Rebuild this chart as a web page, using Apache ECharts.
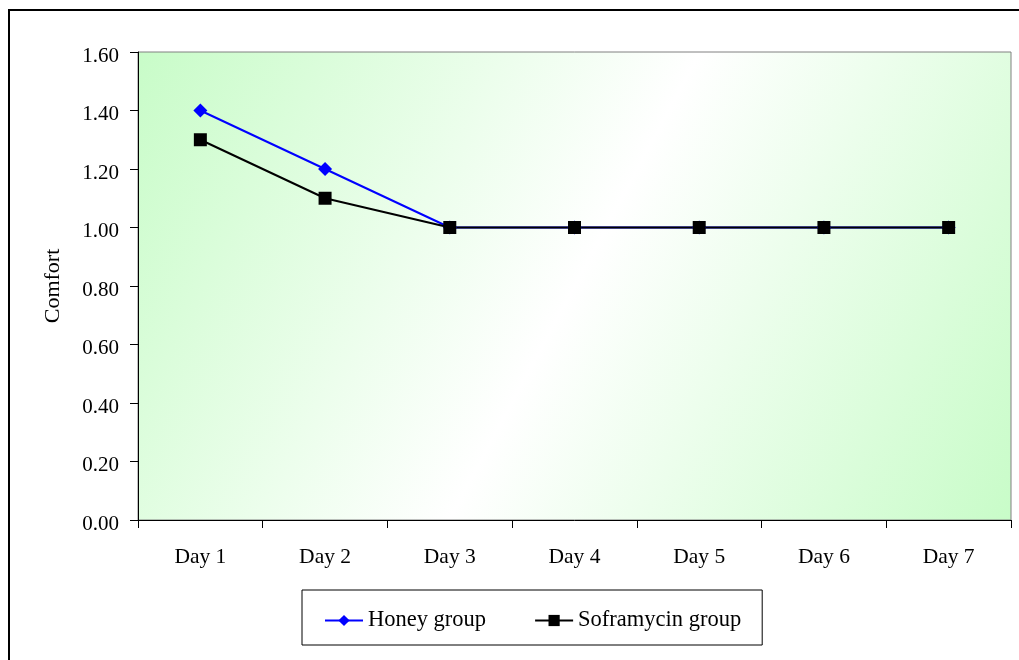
<!DOCTYPE html>
<html>
<head>
<meta charset="utf-8">
<script src="https://cdn.jsdelivr.net/npm/echarts@6/dist/echarts.min.js"></script>
<style>html,body{margin:0;padding:0;background:#fff;}#c{width:1019px;height:660px;}</style>
</head>
<body>
<div id="c"></div>
<script>
const categories = ['Day 1','Day 2','Day 3','Day 4','Day 5','Day 6','Day 7'];
const honeyGroup = [1.40, 1.20, 1.00, 1.00, 1.00, 1.00, 1.00];
const soframycinGroup = [1.30, 1.10, 1.00, 1.00, 1.00, 1.00, 1.00];
const seriesNames = ['Honey group', 'Soframycin group'];
const yAxisName = 'Comfort';

const FONT = "'Liberation Serif','Times New Roman',serif";
const chart = echarts.init(document.getElementById('c'), null, {renderer: 'canvas'});
chart.setOption({
  animation: false,
  backgroundColor: '#fff',
  textStyle: {fontFamily: FONT, color: '#000'},
  graphic: [{
    type: 'rect', z: 100, silent: true,
    shape: {x: 9, y: 10, width: 1100, height: 1000},
    style: {fill: null, stroke: '#000', lineWidth: 2}
  }],
  grid: {
    left: 138, right: 8, top: 52, bottom: 140,
    show: true, borderColor: '#808080', borderWidth: 1,
    backgroundColor: {
      type: 'linear', x: 0, y: 0, x2: 1, y2: 1,
      colorStops: [
        {offset: 0, color: '#c8fcc8'},
        {offset: 0.5, color: '#ffffff'},
        {offset: 1, color: '#c8fcc8'}
      ]
    }
  },
  legend: {
    data: seriesNames,
    left: 302, top: 590,
    padding: [19, 21, 13, 22],
    itemGap: 48, itemWidth: 38, itemHeight: 14,
    borderColor: '#000', borderWidth: 1,
    textStyle: {fontFamily: FONT, fontSize: 22.5, color: '#000'}
  },
  xAxis: {
    type: 'category', data: categories, boundaryGap: true,
    axisLine: {lineStyle: {color: '#000', width: 1}},
    axisTick: {show: true, length: 8, lineStyle: {color: '#000'}},
    axisLabel: {fontFamily: FONT, fontSize: 21.5, color: '#000', margin: 26},
    splitLine: {show: false}
  },
  yAxis: {
    type: 'value', min: 0, max: 1.6, interval: 0.2,
    name: yAxisName, nameLocation: 'middle', nameGap: 74, nameRotate: 90,
    nameTextStyle: {fontFamily: FONT, fontSize: 22, color: '#000'},
    axisLine: {show: true, lineStyle: {color: '#000', width: 1}},
    axisTick: {show: true, length: 8, lineStyle: {color: '#000'}},
    axisLabel: {fontFamily: FONT, fontSize: 21, color: '#000', margin: 19,
      formatter: v => '{a|' + v.toFixed(2) + '}',
      rich: {a: {fontFamily: FONT, fontSize: 21, color: '#000', padding: [8, 0, 0, 0]}}},
    splitLine: {show: false}
  },
  series: [
    {
      name: seriesNames[0], type: 'line', data: honeyGroup,
      symbol: 'diamond', symbolSize: 14,
      itemStyle: {color: '#0000ff'},
      lineStyle: {color: '#0000ff', width: 2}
    },
    {
      name: seriesNames[1], type: 'line', data: soframycinGroup,
      symbol: 'rect', symbolSize: 13,
      itemStyle: {color: '#000'},
      lineStyle: {color: '#000', width: 2}
    }
  ]
});
</script>
</body>
</html>
